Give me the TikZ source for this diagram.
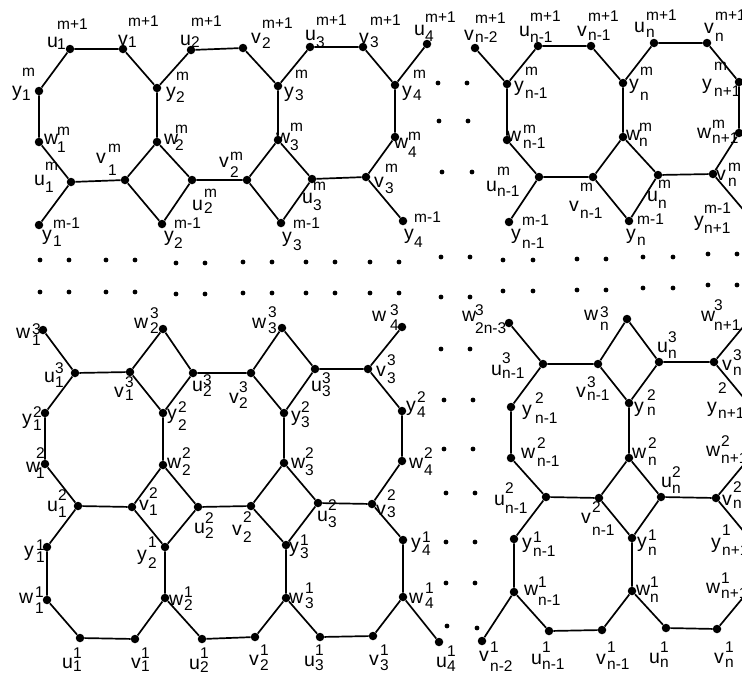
\documentclass[tikz,border=0pt]{standalone}
\usepackage{fontspec}
\setmainfont{Liberation Sans}
\tikzset{
 vx/.style={circle, fill=black, inner sep=0pt, minimum size=8.5pt},
 sd/.style={circle, fill=black, inner sep=0pt, minimum size=4.8pt},
 ed/.style={line width=1.7pt},
 lt/.style={inner sep=0pt, font=\fontsize{19.5}{19.5}\selectfont},
 st/.style={inner sep=0pt, font=\fontsize{15.5}{15.5}\selectfont},
}
\newcommand\lab[9]{%
 \node[lt,anchor=base west] (#1) at (#2,#3) {#4};
 \node[st,anchor=base west] (#1b) at (#5,#7) {#6};
 \node[st,anchor=base west] (#1p) at (#5,#9) {#8};
}
\begin{document}
\begin{tikzpicture}[x=1pt,y=-1pt]
\useasboundingbox (0,0) rectangle (742,675);
\fill[white] (0,0) rectangle (742,675);
\clip (0,0) rectangle (742,675);
% ---------- top-left vertices
\node[vx] (Tu1p) at (70,49) {};
\node[vx] (Tv1p) at (123,49) {};
\node[vx] (Tu2p) at (191,50) {};
\node[vx] (Tv2p) at (243,48) {};
\node[vx] (Tu3p) at (310,47) {};
\node[vx] (Tv3p) at (363,47) {};
\node[vx] (Tu4p) at (427,44) {};
\node[vx] (Ty1) at (39,91) {};
\node[vx] (Ty2) at (157,88) {};
\node[vx] (Ty3) at (278,86) {};
\node[vx] (Ty4) at (395,85) {};
\node[vx] (Tw1) at (39,142) {};
\node[vx] (Tw2) at (157,142) {};
\node[vx] (Tw3) at (278,140) {};
\node[vx] (Tw4) at (395,137) {};
\node[vx] (Tu1) at (71,182) {};
\node[vx] (Tv1) at (125,180) {};
\node[vx] (Tu2) at (192,180) {};
\node[vx] (Tv2) at (247,180) {};
\node[vx] (Tu3) at (312,179) {};
\node[vx] (Tv3) at (366,177) {};
\node[vx] (Ty1m) at (39,225) {};
\node[vx] (Ty2m) at (162,224) {};
\node[vx] (Ty3m) at (281,223) {};
\node[vx] (Ty4m) at (403,221) {};
% ---------- top-right vertices
\node[vx] (Rvn2p) at (475,48) {};
\node[vx] (Run1p) at (538,46) {};
\node[vx] (Rvn1p) at (591,46) {};
\node[vx] (Runp) at (654,43) {};
\node[vx] (Rvnp) at (707,43) {};
\node[vx] (Ryn1) at (507,84) {};
\node[vx] (Ryn) at (623,83) {};
\node[vx] (Rynp1) at (739,82) {};
\node[vx] (Rwn1) at (507,140) {};
\node[vx] (Rwn) at (623,137) {};
\node[vx] (Rwnp1) at (739,133) {};
\node[vx] (Run1) at (539,177) {};
\node[vx] (Rvn1) at (593,177) {};
\node[vx] (Run) at (658,175) {};
\node[vx] (Rvn) at (713,174) {};
\node[vx] (Ryn1m) at (509,222) {};
\node[vx] (Rynm) at (629,221) {};
\coordinate (Rynp1m) at (752,220);
% ---------- lower-left vertices
\node[vx] (Lw13) at (43,330) {};
\node[vx] (Lu13) at (75,373) {};
\node[vx] (Lv13) at (130,372) {};
\node[vx] (Lw23) at (163,329) {};
\node[vx] (Lu23) at (193,373) {};
\node[vx] (Lv23) at (251,373) {};
\node[vx] (Lw33) at (282,328) {};
\node[vx] (Lu33) at (315,369) {};
\node[vx] (Lv33) at (368,369) {};
\node[vx] (Lw43) at (402,327) {};
\node[vx] (Ly12) at (45,413) {};
\node[vx] (Ly22) at (163,413) {};
\node[vx] (Ly32) at (284,413) {};
\node[vx] (Ly42) at (402,411) {};
\node[vx] (Lw12) at (45,464) {};
\node[vx] (Lw22) at (163,465) {};
\node[vx] (Lw32) at (284,463) {};
\node[vx] (Lw42) at (402,461) {};
\node[vx] (Lu12) at (78,506) {};
\node[vx] (Lv12) at (132,507) {};
\node[vx] (Lu22) at (198,507) {};
\node[vx] (Lv22) at (251,506) {};
\node[vx] (Lu32) at (318,503) {};
\node[vx] (Lv32) at (372,504) {};
\node[vx] (Ly11) at (47,547) {};
\node[vx] (Ly21) at (165,547) {};
\node[vx] (Ly31) at (286,545) {};
\node[vx] (Ly41) at (403,540) {};
\node[vx] (Lw11) at (47,600) {};
\node[vx] (Lw21) at (165,598) {};
\node[vx] (Lw31) at (286,598) {};
\node[vx] (Lw41) at (403,597) {};
\node[vx] (Lu11) at (80,638) {};
\node[vx] (Lv11) at (135,639) {};
\node[vx] (Lu21) at (202,639) {};
\node[vx] (Lv21) at (255,637) {};
\node[vx] (Lu31) at (320,637) {};
\node[vx] (Lv31) at (373,636) {};
\node[vx] (Lu41) at (439,642) {};
% ---------- lower-right vertices
\node[vx] (Sw3) at (509,323) {};
\node[vx] (Sun13) at (543,364) {};
\node[vx] (Svn13) at (598,364) {};
\node[vx] (Swn3) at (627,319) {};
\node[vx] (Sun3) at (659,362) {};
\node[vx] (Svn3) at (714,362) {};
\node[vx] (Syn12) at (511,407) {};
\node[vx] (Syn2) at (629,403) {};
\node[vx] (Swn12) at (511,458) {};
\node[vx] (Swn2) at (629,458) {};
\node[vx] (Sun12) at (546,497) {};
\node[vx] (Svn12) at (599,498) {};
\node[vx] (Sun2) at (661,497) {};
\node[vx] (Svn2) at (716,498) {};
\node[vx] (Syn11) at (514,539) {};
\node[vx] (Syn1) at (632,538) {};
\node[vx] (Swn11) at (514,592) {};
\node[vx] (Swn1) at (632,591) {};
\node[vx] (Svn21) at (482,641) {};
\node[vx] (Sun11) at (549,631) {};
\node[vx] (Svn11) at (602,630) {};
\node[vx] (Sun1) at (666,628) {};
\node[vx] (Svn1) at (717,629) {};
\coordinate (Sc1) at (748,321);
\coordinate (Sc2) at (748,403);
\coordinate (Sc3) at (750,457);
\coordinate (Sc4) at (750,539);
\coordinate (Sc5) at (751,588);
% ---------- edges
\draw[ed] (Tu1p)--(Tv1p) (Tv1p)--(Ty2) (Ty2)--(Tu2p) (Tu2p)--(Tv2p) (Tv2p)--(Ty3)
 (Ty3)--(Tu3p) (Tu3p)--(Tv3p) (Tv3p)--(Ty4) (Ty4)--(Tu4p)
 (Ty1)--(Tu1p) (Ty1)--(Tw1) (Tw1)--(Tu1) (Tu1)--(Ty1m) (Tu1)--(Tv1)
 (Ty2)--(Tw2) (Tw2)--(Tv1) (Tw2)--(Tu2) (Tv1)--(Ty2m) (Ty2m)--(Tu2) (Tu2)--(Tv2)
 (Ty3)--(Tw3) (Tw3)--(Tv2) (Tw3)--(Tu3) (Tv2)--(Ty3m) (Ty3m)--(Tu3) (Tu3)--(Tv3)
 (Ty4)--(Tw4) (Tw4)--(Tv3) (Tv3)--(Ty4m);
\draw[ed] (Rvn2p)--(Ryn1) (Ryn1)--(Run1p) (Run1p)--(Rvn1p) (Rvn1p)--(Ryn) (Ryn)--(Runp)
 (Runp)--(Rvnp) (Rvnp)--(Rynp1) (Rynp1)--(Rwnp1) (Rwnp1)--(Rvn) (Rvn)--(Rynp1m)
 (Ryn1)--(Rwn1) (Rwn1)--(Run1) (Run1)--(Ryn1m) (Run1)--(Rvn1)
 (Ryn)--(Rwn) (Rwn)--(Rvn1) (Rwn)--(Run) (Rvn1)--(Rynm) (Rynm)--(Run) (Run)--(Rvn);
\draw[ed] (Lw13)--(Lu13) (Lu13)--(Lv13) (Lu13)--(Ly12) (Lv13)--(Lw23) (Lw23)--(Lu23)
 (Lu23)--(Ly22) (Ly22)--(Lv13) (Lu23)--(Lv23) (Lv23)--(Lw33) (Lw33)--(Lu33)
 (Lu33)--(Ly32) (Ly32)--(Lv23) (Lu33)--(Lv33) (Lv33)--(Lw43) (Lv33)--(Ly42)
 (Ly12)--(Lw12) (Ly22)--(Lw22) (Ly32)--(Lw32) (Ly42)--(Lw42)
 (Lw12)--(Lu12) (Lu12)--(Lv12) (Lu12)--(Ly11) (Lv12)--(Lw22) (Lw22)--(Lu22)
 (Lu22)--(Ly21) (Ly21)--(Lv12) (Lu22)--(Lv22) (Lv22)--(Lw32) (Lw32)--(Lu32)
 (Lu32)--(Ly31) (Ly31)--(Lv22) (Lu32)--(Lv32) (Lv32)--(Lw42) (Lv32)--(Ly41)
 (Ly11)--(Lw11) (Ly21)--(Lw21) (Ly31)--(Lw31) (Ly41)--(Lw41)
 (Lw11)--(Lu11) (Lu11)--(Lv11) (Lv11)--(Lw21) (Lw21)--(Lu21) (Lu21)--(Lv21)
 (Lv21)--(Lw31) (Lw31)--(Lu31) (Lu31)--(Lv31) (Lv31)--(Lw41) (Lw41)--(Lu41);
\draw[ed] (Sw3)--(Sun13) (Sun13)--(Svn13) (Sun13)--(Syn12) (Svn13)--(Swn3) (Swn3)--(Sun3)
 (Sun3)--(Syn2) (Syn2)--(Svn13) (Sun3)--(Svn3) (Svn3)--(Sc1) (Svn3)--(Sc2)
 (Syn12)--(Swn12) (Syn2)--(Swn2)
 (Swn12)--(Sun12) (Sun12)--(Svn12) (Sun12)--(Syn11) (Svn12)--(Swn2) (Swn2)--(Sun2)
 (Sun2)--(Syn1) (Syn1)--(Svn12) (Sun2)--(Svn2) (Svn2)--(Sc3) (Svn2)--(Sc4)
 (Syn11)--(Swn11) (Syn1)--(Swn1)
 (Svn21)--(Swn11) (Swn11)--(Sun11) (Sun11)--(Svn11) (Svn11)--(Swn1) (Swn1)--(Sun1)
 (Sun1)--(Svn1) (Svn1)--(Sc5);
% ---------- small dots (ellipses)
\foreach \px/\py [count=\i] in {40/260,69/260,106/260,135/260,176/263,205/263,243/262,272/262,306/262,335/262,370/262,399/262,441/257,470/257,503/260,533/260,577/259,606/259,643/257,673/257,708/254,737/254,
 40/292,69/292,106/292,135/292,176/294,205/294,243/293,272/293,306/293,335/293,370/293,399/293,441/297,470/297,503/291,533/291,577/290,606/290,643/288,673/288,708/285,737/285,
 438/83,467/83,439/121,468/121,442/172,472/172,
 441/349,470/349,444/400,473/400,444/449,473/449,446/493,475/493,446/542,475/542,446/583,475/583,447/626,477/628}
 \node[sd] (e\i) at (\px,\py) {};
% ---------- labels: name, x, baseline, letter, script x, sub, sub baseline, sup, sup baseline
\lab{a1}{47}{47}{u}{57}{1}{49}{m+1}{29}
\lab{a2}{118}{45}{v}{128}{1}{47}{m+1}{26}
\lab{a3}{180}{45}{u}{191}{2}{47}{m+1}{26}
\lab{a4}{12}{96}{y}{22}{1}{100}{m}{76}
\lab{a5}{166}{97}{y}{176}{2}{102}{m}{80}
\lab{a6}{44}{144}{w}{57}{1}{152}{m}{135}
\lab{a7}{164}{144}{w}{175}{2}{150}{m}{133}
\lab{a8}{96}{163}{v}{108}{1}{175}{m}{152}
\lab{a9}{34}{185}{u}{45}{1}{192}{m}{170}
\lab{a10}{219}{167}{v}{230}{2}{177}{m}{160}
\lab{a11}{192}{210}{u}{204}{2}{213}{m}{197}
\lab{a12}{42}{240}{y}{53}{1}{246}{m-1}{228}
\lab{a13}{164}{241}{y}{174}{2}{248}{m-1}{228}
\lab{a14}{251}{43}{v}{262}{2}{48}{m+1}{28}
\lab{a15}{305}{40}{u}{316}{3}{47}{m+1}{25}
\lab{a16}{359}{43}{v}{370}{3}{47}{m+1}{25}
\lab{a17}{414}{35}{u}{425}{4}{41}{m+1}{22}
\lab{a18}{284}{97}{y}{295}{3}{100}{m}{78}
\lab{a19}{402}{96}{y}{413}{4}{100}{m}{78}
\lab{a20}{276}{143}{w}{290}{3}{150}{m}{131}
\lab{a21}{394}{148}{w}{408}{4}{157}{m}{140}
\lab{a22}{374}{187}{v}{385}{3}{193}{m}{172}
\lab{a23}{302}{203}{u}{313}{3}{210}{m}{190}
\lab{a24}{282}{242}{y}{293}{3}{250}{m-1}{228}
\lab{a25}{404}{239}{y}{414}{4}{247}{m-1}{222}
\lab{a26}{464}{40}{v}{475}{n-2}{42}{m+1}{23}
\lab{a27}{519}{36}{u}{530}{n-1}{42}{m+1}{21}
\lab{a28}{577}{36}{v}{588}{n-1}{40}{m+1}{21}
\lab{a29}{634}{32}{u}{646}{n}{37}{m+1}{20}
\lab{a30}{704}{33}{v}{715}{n}{41}{m+1}{20}
\lab{a31}{514}{91}{y}{525}{n-1}{98}{m}{75}
\lab{a32}{629}{89}{y}{640}{n}{100}{m}{75}
\lab{a33}{702}{89}{y}{714}{n+1}{96}{m}{70}
\lab{a34}{507}{141}{w}{523}{n-1}{148}{m}{133}
\lab{a35}{626}{140}{w}{639}{n}{146}{m}{131}
\lab{a36}{697}{138}{w}{712}{n+1}{143}{m}{128}
\lab{a37}{486}{191}{u}{497}{n-1}{196}{m}{175}
\lab{a38}{569}{211}{v}{580}{n-1}{218}{m}{191}
\lab{a39}{647}{201}{u}{658}{n}{208}{m}{188}
\lab{a40}{716}{180}{v}{728}{n}{186}{m}{171}
\lab{a41}{511}{239}{y}{522}{n-1}{248}{m-1}{225}
\lab{a42}{626}{239}{y}{637}{n}{245}{m-1}{224}
\lab{a43}{694}{226}{y}{704}{n+1}{233}{m-1}{213}
\lab{b44}{16}{338}{w}{32}{1}{345}{3}{334}
\lab{b45}{44}{382}{u}{55}{1}{387}{3}{373}
\lab{b46}{134}{328}{w}{150}{2}{333}{3}{318}
\lab{b47}{114}{397}{v}{125}{1}{400}{3}{387}
\lab{b48}{192}{391}{u}{203}{2}{396}{3}{385}
\lab{b49}{229}{403}{v}{239}{2}{408}{3}{392}
\lab{b50}{22}{424}{y}{33}{1}{430}{2}{417}
\lab{b51}{167}{419}{y}{178}{2}{430}{2}{412}
\lab{b52}{252}{328}{w}{268}{3}{333}{3}{317}
\lab{b53}{311}{391}{u}{322}{3}{396}{3}{383}
\lab{b54}{376}{376}{v}{387}{3}{383}{3}{365}
\lab{b55}{372}{321}{w}{390}{4}{330}{3}{315}
\lab{b56}{291}{421}{y}{301}{3}{427}{2}{412}
\lab{b57}{406}{411}{y}{417}{4}{417}{2}{402}
\lab{b58}{26}{472}{w}{36}{1}{478}{2}{458}
\lab{b59}{167}{468}{w}{182}{2}{475}{2}{458}
\lab{b60}{47}{511}{u}{58}{1}{517}{2}{500}
\lab{b61}{139}{510}{v}{149}{1}{515}{2}{498}
\lab{b62}{194}{533}{u}{205}{2}{538}{2}{523}
\lab{b63}{232}{535}{v}{243}{2}{542}{2}{522}
\lab{b64}{24}{556}{y}{36}{1}{562}{1}{550}
\lab{b65}{137}{560}{y}{148}{2}{568}{1}{547}
\lab{b66}{19}{603}{w}{35}{1}{613}{1}{597}
\lab{b67}{169}{605}{w}{184}{2}{610}{1}{597}
\lab{b68}{62}{668}{u}{73}{1}{671}{1}{658}
\lab{b69}{131}{668}{v}{141}{1}{671}{1}{658}
\lab{b70}{189}{669}{u}{200}{2}{672}{1}{658}
\lab{b71}{291}{468}{w}{305}{3}{475}{2}{458}
\lab{b72}{409}{468}{w}{424}{4}{475}{2}{458}
\lab{b73}{317}{521}{u}{328}{3}{527}{2}{510}
\lab{b74}{376}{515}{v}{387}{3}{517}{2}{500}
\lab{b75}{289}{552}{y}{300}{3}{558}{1}{545}
\lab{b76}{411}{548}{y}{422}{4}{555}{1}{542}
\lab{b77}{289}{603}{w}{305}{3}{608}{1}{593}
\lab{b78}{409}{603}{w}{425}{4}{608}{1}{593}
\lab{b79}{249}{665}{v}{260}{2}{670}{1}{655}
\lab{b80}{304}{666}{u}{315}{3}{670}{1}{655}
\lab{b81}{369}{665}{v}{380}{3}{670}{1}{655}
\lab{b82}{436}{667}{u}{447}{4}{671}{1}{656}
\lab{c83}{462}{321}{w}{475}{2n-3}{333}{3}{315}
\lab{c84}{584}{320}{w}{600}{n}{330}{3}{317}
\lab{c85}{701}{321}{w}{714}{n+1}{330}{3}{310}
\lab{c86}{491}{375}{u}{502}{n-1}{378}{3}{363}
\lab{c87}{657}{352}{u}{668}{n}{358}{3}{342}
\lab{c88}{576}{397}{v}{587}{n-1}{400}{3}{387}
\lab{c89}{722}{370}{v}{733}{n}{375}{3}{360}
\lab{c90}{522}{415}{y}{535}{n-1}{423}{2}{403}
\lab{c91}{634}{412}{y}{647}{n}{415}{2}{400}
\lab{c92}{707}{412}{y}{718}{n+1}{418}{2}{393}
\lab{c93}{521}{458}{w}{537}{n-1}{466}{2}{448}
\lab{c94}{632}{458}{w}{648}{n}{465}{2}{448}
\lab{c95}{706}{456}{w}{721}{n+1}{463}{2}{446}
\lab{c96}{494}{505}{u}{505}{n-1}{513}{2}{493}
\lab{c97}{661}{487}{u}{672}{n}{493}{2}{477}
\lab{c98}{581}{523}{v}{592}{n-1}{535}{2}{512}
\lab{c99}{722}{505}{v}{733}{n}{508}{2}{492}
\lab{c100}{522}{548}{y}{533}{n-1}{556}{1}{542}
\lab{c101}{637}{547}{y}{648}{n}{555}{1}{540}
\lab{c102}{711}{548}{y}{722}{n+1}{555}{1}{535}
\lab{c103}{524}{595}{w}{538}{n-1}{605}{1}{587}
\lab{c104}{636}{595}{w}{650}{n}{602}{1}{587}
\lab{c105}{706}{593}{w}{721}{n+1}{598}{1}{583}
\lab{c106}{479}{661}{v}{490}{n-2}{671}{1}{652}
\lab{c107}{531}{664}{u}{542}{n-1}{669}{1}{652}
\lab{c108}{596}{664}{v}{607}{n-1}{669}{1}{652}
\lab{c109}{649}{663}{u}{660}{n}{667}{1}{652}
\lab{c110}{714}{663}{v}{725}{n}{667}{1}{652}
\end{tikzpicture}
\end{document}
